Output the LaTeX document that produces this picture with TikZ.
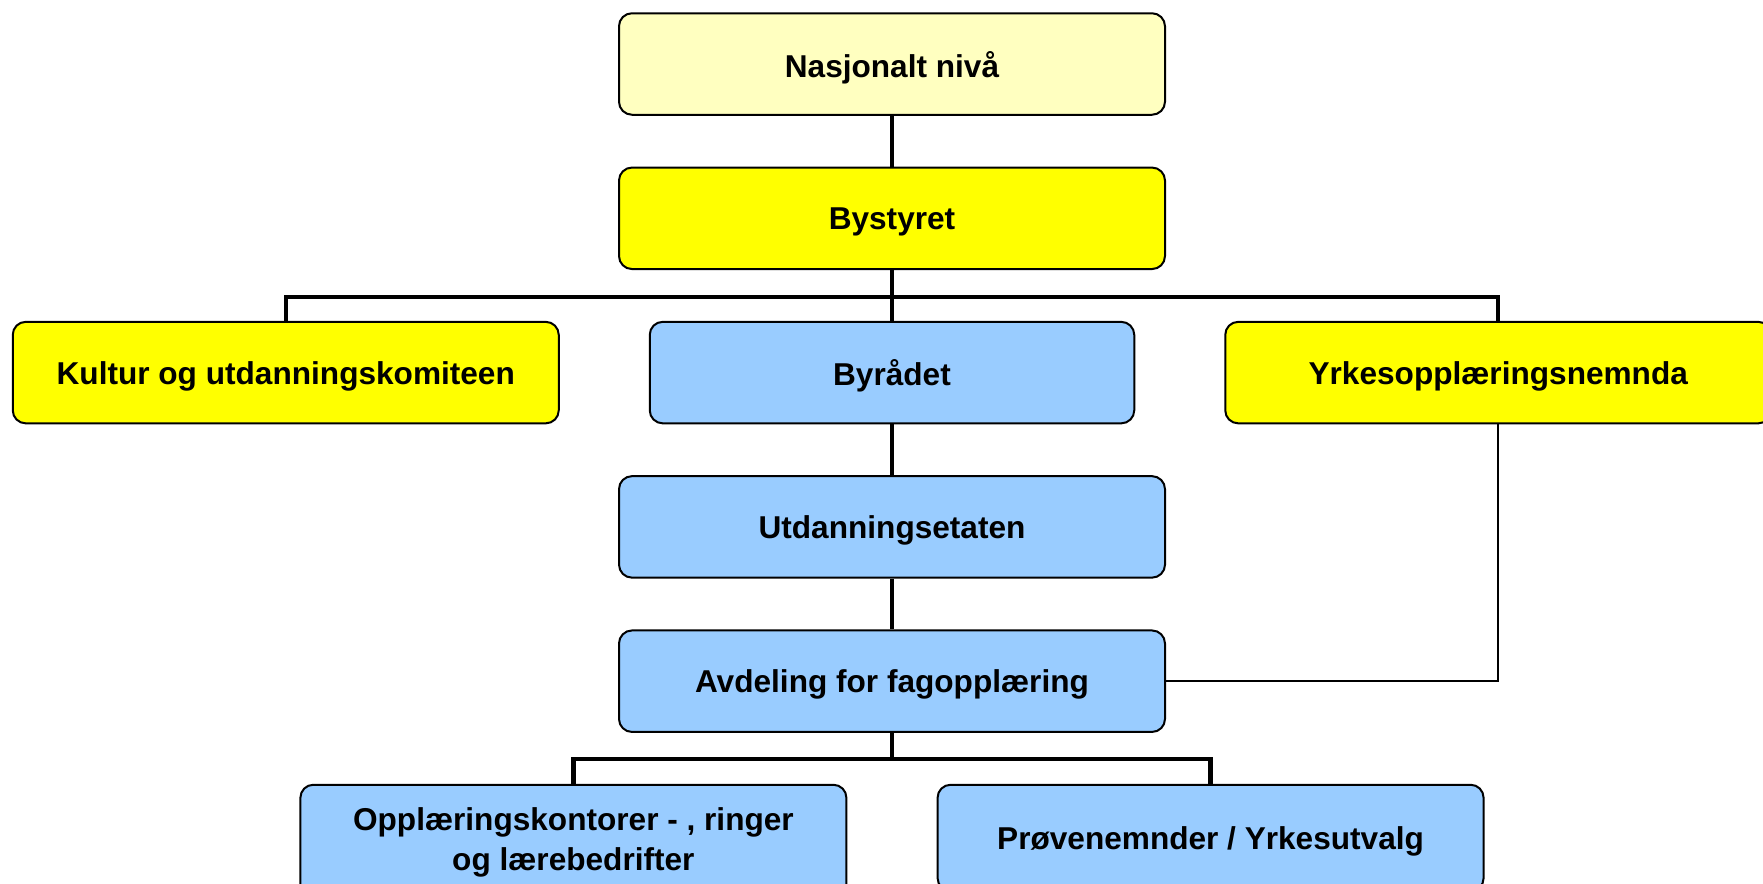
\documentclass[tikz,border=0pt]{standalone}
\usepackage{fontspec}
\setmainfont{Liberation Sans}
\usetikzlibrary{positioning, calc}
\tikzset{
    Box/.style = {
        draw, line width=1pt, rounded corners=6.5pt,
        minimum width=273pt, minimum height=50.75pt, text depth=0pt,
        align=center, font=\fontsize{15.8}{19.7}\selectfont\bfseries
    },
    Tree/.style = {line width=2.2pt},
    Link/.style = {line width=0.8pt}
}
\definecolor{nFill}{HTML}{FFFFC0}
\definecolor{yFill}{HTML}{FFFF00}
\definecolor{bFill}{HTML}{99CCFF}

\begin{document}
\begin{tikzpicture}[node distance=25.4pt]
    \useasboundingbox (0,0) rectangle (881.5pt,-442pt);
    \clip (0,0) rectangle (881.5pt,-442pt);
    \node [Box, fill=nFill] (N) at (446pt,-32pt) {Nasjonalt nivå};
    \node [Box, fill=yFill, below=of N] (B) {Bystyret};
    \node [Box, fill=bFill, below=of B, minimum width=242.25pt] (R) {Byrådet};
    \node [Box, fill=yFill, left=44.5pt of R] (K) {Kultur og utdanningskomiteen};
    \node [Box, fill=yFill, right=44.5pt of R] (Y) {Yrkesopplæringsnemnda};
    \node [Box, fill=bFill, below=of R] (U) {Utdanningsetaten};
    \node [Box, fill=bFill, below=of U] (A) {Avdeling for fagopplæring};
    \node [Box, fill=bFill, below=of A, xshift=-159.3pt, text depth=, minimum height=57.5pt] (O) {Opplæringskontorer - , ringer\\og lærebedrifter};
    \node [Box, fill=bFill, below=of A, xshift=159.3pt, minimum height=53.2pt] (P) {Prøvenemnder / Yrkesutvalg};
    \draw [Tree] (N) to (B);
    \draw [Tree] (K.north) -- ++(0,11.8pt) coordinate (kb) -| (Y.north);
    \draw [Tree] (B.south) -- (B.south |- kb);
    \draw [Tree] (kb -| R.north) -- (R.north);
    \draw [Tree] (R) to (U);
    \draw [Tree] (U) to (A);
    \draw [Tree] (O.north) -- ++(0,12.5pt) coordinate (ob) -| (P.north);
    \draw [Tree] (A.south) -- (A.south |- ob);
    \draw [Link] (A.east) -| (Y.south);
\end{tikzpicture}
\end{document}
